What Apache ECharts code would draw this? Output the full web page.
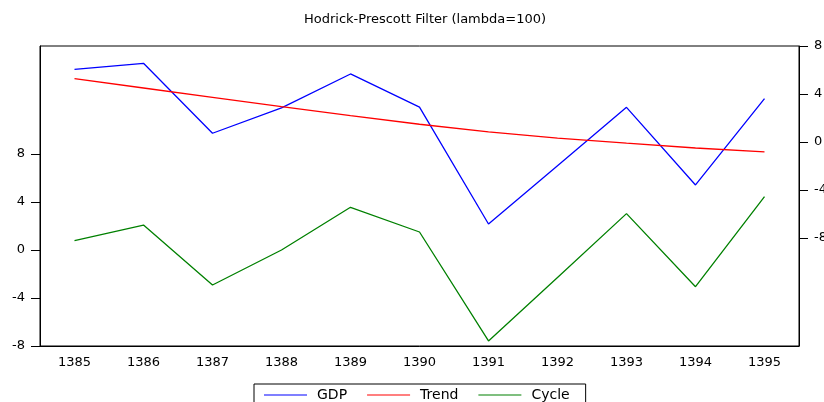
<!DOCTYPE html>
<html>
<meta charset="UTF-8">
<title>hp-filter</title>
<style type="text/css">
    html,
    body {
        margin: 0px;
        height: 100%;
        width: 100%;
        background: #fff;
    }

    #chart {
        width: 824px;
        height: 402px;
    }
</style>
<script src="https://cdn.jsdelivr.net/npm/echarts@6/dist/echarts.min.js"></script>

<body>
    <div id="chart"></div>
    <script>
        const years = ['1385', '1386', '1387', '1388', '1389', '1390', '1391', '1392', '1393', '1394', '1395'];
        // GDP and Trend sit on the right axis, Cycle on the left one
        const gdp = [6.06, 6.56, 0.73, 2.85, 5.67, 2.9, -6.83, -1.98, 2.89, -3.58, 3.61];
        const trend = [5.28, 4.5, 3.72, 2.95, 2.2, 1.48, 0.85, 0.33, -0.1, -0.5, -0.83];
        const cycle = [0.78, 2.08, -2.92, 0, 3.56, 1.5, -7.58, -2.29, 3.03, -3.06, 4.44];
        const leftTicks = [-8, -4, 0, 4, 8];
        const rightTicks = [-8, -4, 0, 4, 8];

        const font = 'DejaVu Sans';
        const chart = echarts.init(document.querySelector('#chart'));

        const options = {
            animation: false,
            backgroundColor: '#fff',
            title: {
                text: 'Hodrick-Prescott Filter (lambda=100)',
                left: 420,
                top: 8,
                textAlign: 'center',
                textStyle: { fontFamily: font, fontSize: 13, fontWeight: 'normal', color: '#000' }
            },
            legend: {
                left: 254,
                top: 384,
                padding: [4, 16, 4, 10],
                borderColor: '#000',
                borderWidth: 1,
                icon: 'rect',
                itemWidth: 43,
                itemHeight: 1,
                itemGap: 20,
                textStyle: { fontFamily: font, fontSize: 14, color: '#000', padding: [0, 0, 0, 5] },
                data: ['GDP', 'Trend', 'Cycle']
            },
            grid: {
                left: 40,
                right: 25,
                top: 46,
                bottom: 56,
                outerBoundsMode: 'none',
                containLabel: false,
                show: true,
                borderColor: '#000',
                borderWidth: 1
            },
            xAxis: {
                type: 'category',
                data: years,
                boundaryGap: true,
                axisLine: { onZero: false, lineStyle: { color: '#000' } },
                axisTick: { length: 6, lineStyle: { color: '#000' } },
                axisLabel: { fontFamily: font, fontSize: 13, color: '#000', margin: 10 }
            },
            yAxis: [
                {
                    type: 'value',
                    position: 'left',
                    min: -8,
                    max: 17,
                    splitLine: { show: false },
                    axisLine: { show: true, lineStyle: { color: '#000' } },
                    axisTick: { show: true, length: 9, customValues: leftTicks, lineStyle: { color: '#000' } },
                    axisLabel: { fontFamily: font, fontSize: 13, color: '#000', margin: 15, customValues: leftTicks }
                },
                {
                    type: 'value',
                    position: 'right',
                    min: -17,
                    max: 8,
                    splitLine: { show: false },
                    axisLine: { show: true, lineStyle: { color: '#000' } },
                    axisTick: { show: true, length: 9, customValues: rightTicks, lineStyle: { color: '#000' } },
                    axisLabel: { fontFamily: font, fontSize: 13, color: '#000', margin: 15, customValues: rightTicks }
                }
            ],
            series: [
                {
                    name: 'GDP',
                    type: 'line',
                    yAxisIndex: 1,
                    data: gdp,
                    symbol: 'none',
                    itemStyle: { color: '#0000ff' },
                    lineStyle: { color: '#0000ff', width: 1.3 }
                },
                {
                    name: 'Trend',
                    type: 'line',
                    yAxisIndex: 1,
                    data: trend,
                    symbol: 'none',
                    itemStyle: { color: '#ff0000' },
                    lineStyle: { color: '#ff0000', width: 1.3 }
                },
                {
                    name: 'Cycle',
                    type: 'line',
                    yAxisIndex: 0,
                    data: cycle,
                    symbol: 'none',
                    itemStyle: { color: '#008000' },
                    lineStyle: { color: '#008000', width: 1.3 }
                }
            ]
        };
        chart.setOption(options);
    </script>
</body>

</html>
